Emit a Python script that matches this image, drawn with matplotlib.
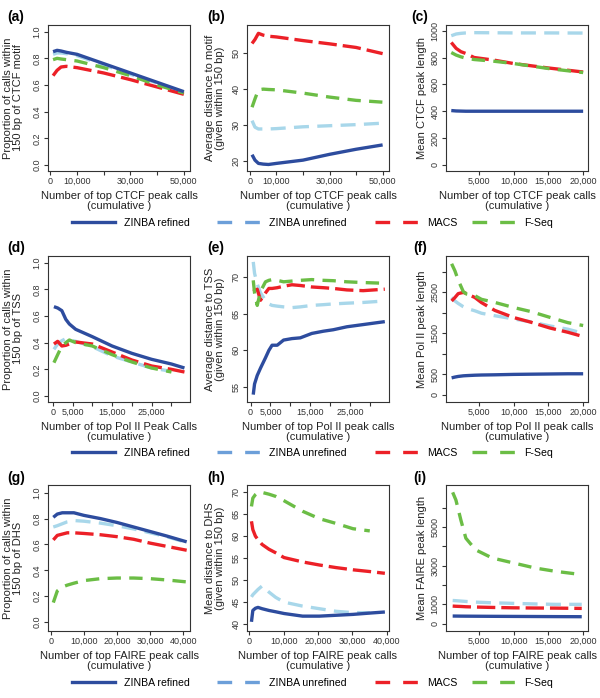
import numpy as np
import matplotlib
matplotlib.use("Agg")
import matplotlib.pyplot as plt
from matplotlib.lines import Line2D

plt.rcParams["font.family"] = ["Liberation Sans", "DejaVu Sans"]

nan = np.nan

# ---- (a) CTCF: proportion within 150 bp of motif
a_x = [1000, 2500, 4000, 6000, 10000, 20000, 30000, 40000, 50000]
a_refined = [0.85, 0.86, 0.855, 0.845, 0.83, 0.76, 0.69, 0.62, 0.55]
a_unrefined = [0.83, 0.84, 0.84, 0.835, 0.82, 0.75, 0.68, 0.615, 0.545]
a_macs = [0.67, 0.71, 0.735, 0.74, 0.73, 0.69, 0.64, 0.585, 0.53]
a_fseq = [0.79, 0.80, 0.795, 0.79, 0.78, 0.73, 0.67, 0.60, 0.54]

# ---- (b) CTCF: average distance to motif
b_x = [800, 1900, 3200, 5000, 7000, 10000, 20000, 30000, 40000, 50000]
b_refined = [21.8, 20.3, 19.4, 19.2, 19.1, 19.4, 20.3, 21.9, 23.3, 24.5]
b_unrefined = [31.2, 29.4, 28.9, 28.9, 28.9, 29.0, 29.5, 29.8, 30.1, 30.5]
b_macs = [52.5, 53.6, 55.3, 54.8, 54.5, 54.3, 53.3, 52.4, 51.4, 49.7]
b_fseq = [34.9, 37.2, 39.7, 39.9, 39.8, 39.7, 38.8, 37.7, 36.8, 36.3]

# ---- (c) CTCF: mean peak length
c_x = [1000, 1700, 2400, 3100, 4300, 7200, 10000, 15000, 20000]
c_refined = [405, 402, 401, 400, 400, 400, 400, 400, 400]
c_unrefined = [962, 975, 980, 983, 985, 984, 983, 983, 982]
c_macs = [912, 868, 843, 830, 800, 780, 755, 722, 692]
c_fseq = [837, 818, 805, 795, 785, 772, 755, 718, 688]

# ---- (d) Pol II: proportion within 150 bp of TSS
d_x = [300, 1250, 2300, 3300, 4200, 5800, 10000, 15000, 20000, 25000, 30000, 33300]
d_refined = [0.67, 0.66, 0.64, 0.575, 0.54, 0.50, 0.445, 0.375, 0.32, 0.275, 0.24, 0.21]
d_unrefined = [0.35, 0.39, 0.415, 0.43, 0.42, 0.41, 0.37, 0.30, 0.255, 0.21, 0.185, nan]
d_macs = [0.39, 0.41, 0.375, 0.38, 0.39, 0.405, 0.39, 0.33, 0.27, 0.225, 0.20, 0.18]
d_fseq = [0.25, 0.31, 0.375, 0.40, 0.42, 0.40, 0.375, 0.31, 0.255, 0.21, 0.18, nan]

# ---- (e) Pol II: average distance to TSS
e_x = [670, 1000, 1670, 2500, 3750, 4600, 5400, 6700, 8300, 10400, 12500,
       15400, 18300, 20800, 24200, 28300, 33750]
e_refined = [54.0, 55.45, 56.6, 57.6, 59.0, 60.0, 60.7, 60.7, 61.4, 61.6, 61.7,
             62.3, 62.6, 62.8, 63.2, 63.5, 63.9]
e_unrefined = [72.0, 70.45, 69.0, 67.8, 66.8, 66.3, 66.1, 66.0, 65.9, 65.8, 65.9,
               66.1, 66.2, 66.3, 66.4, 66.5, 66.7]
e_macs = [68.0, 68.1, 68.3, 66.8, 67.8, 68.4, 68.4, 68.5, 68.7, 68.9, 68.8,
          68.6, 68.5, 68.4, 68.2, 68.1, 68.3]
e_fseq = [69.5, 67.8, 66.1, 68.0, 69.3, 69.5, 69.6, 69.5, 69.3, 69.4, 69.5,
          69.6, 69.5, 69.45, 69.3, 69.2, 69.1]

# ---- (f) Pol II: mean peak length
f_x = [1050, 1530, 2000, 2730, 3200, 4400, 5360, 7270, 10000, 12500, 15200, 17800, 20000]
f_refined = [410, 430, 445, 460, 465, 475, 480, 485, 495, 500, 505, 510, 510]
f_unrefined = [2375, 2290, 2230, 2150, 2110, 2050, 1990, 1930, 1850, 1780, 1680, 1600, 1500]
f_macs = [2290, 2375, 2470, 2500, 2470, 2375, 2250, 2060, 1885, 1770, 1630, 1525, 1420]
f_fseq = [3200, 3025, 2800, 2520, 2460, 2420, 2330, 2255, 2130, 2030, 1890, 1760, 1690]

# ---- (g) FAIRE: proportion within 150 bp of DHS
g_x = [800, 2000, 3500, 5000, 7000, 10000, 15000, 20000, 25000, 30000, 35000, 41000]
g_refined = [0.81, 0.835, 0.845, 0.845, 0.845, 0.825, 0.80, 0.77, 0.735, 0.70, 0.665, 0.62]
g_unrefined = [0.735, 0.745, 0.76, 0.775, 0.785, 0.78, 0.765, 0.745, 0.72, 0.69, 0.66, 0.615]
g_macs = [0.635, 0.67, 0.68, 0.69, 0.69, 0.685, 0.675, 0.66, 0.64, 0.61, 0.585, 0.555]
g_fseq = [0.15, 0.24, 0.27, 0.285, 0.30, 0.32, 0.335, 0.34, 0.34, 0.335, 0.325, 0.31]

# ---- (h) FAIRE: mean distance to DHS
h_x = [600, 1000, 1750, 2500, 3700, 5700, 7650, 10100, 15500, 20400, 25300, 30200, 35100, 39500]
h_refined = [40.4, 43.0, 43.5, 43.7, 43.4, 43.0, 42.7, 42.3, 41.7, 41.7, 41.9, 42.1, 42.4, 42.65]
h_unrefined = [46.1, 46.6, 47.2, 47.8, 48.6, 47.2, 46.0, 44.9, 44.0, 43.4, 42.8, 42.5, 42.5, nan]
h_macs = [63.4, 61.5, 60.0, 59.2, 58.1, 57.0, 56.2, 55.1, 54.1, 53.4, 52.8, 52.3, 51.9, 51.5]
h_fseq = [66.8, 68.7, 69.5, 70.0, 70.0, 69.6, 69.1, 68.1, 65.7, 64.0, 62.9, 61.7, 61.2, nan]

# ---- (i) FAIRE: mean peak length
i_x = [1200, 1670, 2380, 3100, 4500, 6900, 10000, 13100, 16000, 19800]
i_refined = [395, 393, 390, 388, 385, 380, 375, 370, 365, 360]
i_unrefined = [1200, 1190, 1170, 1150, 1115, 1080, 1050, 1020, 1000, 1000]
i_macs = [910, 900, 890, 875, 860, 840, 820, 810, 805, 790]
i_fseq = [6800, 6400, 5370, 4425, 3825, 3400, 3140, 2880, 2710, 2540]

methods = ["ZINBA refined", "ZINBA unrefined", "MACS", "F-Seq"]

BLUE = "#2D4C9E"
LIGHT = "#A8D7EA"
LEG_LIGHT = "#6C9FD9"
RED = "#EC2027"
GREEN = "#6BBD45"
LW = 2.4
DARK = "#333333"

W, H = 600, 698
COL_LEFT = [48, 247, 446]
ROW_TOP = [25, 256, 485]
AX_W, AX_H = 142, 146
YLAB_EDGE = [23, 225, 427]

fig = plt.figure(figsize=(W / 100, H / 100), dpi=100)


def fmt(v):
    return f"{v:,}"


def panel(row, col, x, refined, unrefined, macs, fseq, xlim, ylim,
          xticks, xshow, yticks, yshow, xlabel, ylabel):
    left, top = COL_LEFT[col], ROW_TOP[row]
    ax = fig.add_axes([left / W, 1 - (top + AX_H) / H, AX_W / W, AX_H / H])
    ax.plot(x, unrefined, color=LIGHT, lw=LW, dashes=(4.5, 2.5))
    ax.plot(x, macs, color=RED, lw=LW, dashes=(5.5, 1.8))
    ax.plot(x, fseq, color=GREEN, lw=LW, dashes=(4, 2.5))
    ax.plot(x, refined, color=BLUE, lw=LW, solid_capstyle="butt")
    ax.set_xlim(xlim)
    ax.set_ylim(ylim)
    ax.set_xticks(xticks)
    ax.set_xticklabels([fmt(t) if s else "" for t, s in zip(xticks, xshow)])
    ax.set_yticks(yticks)
    ax.set_yticklabels([str(t) if s else "" for t, s in zip(yticks, yshow)])
    for t in ax.get_yticklabels():
        t.set_rotation(90)
        t.set_va("center")
    ax.tick_params(length=3, width=0.8, pad=1.5, labelsize=6.5,
                   color=DARK, labelcolor=DARK)
    for s in ax.spines.values():
        s.set_color(DARK)
        s.set_linewidth(0.8)
    ax.set_xlabel(xlabel, fontsize=8, color="#222222", linespacing=1.0)
    ax.xaxis.set_label_coords(0.5, -20 / AX_H)
    ax.set_ylabel(ylabel, fontsize=8, color="#222222", linespacing=0.95)
    ax.yaxis.set_label_coords((YLAB_EDGE[col] - left) / AX_W, 0.5)
    return ax


prop_ticks = [0.0, 0.2, 0.4, 0.6, 0.8, 1.0]
prop_lab = [True] * 6
prop_lim = (-0.045, 1.05)

panel(0, 0, a_x, a_refined, a_unrefined, a_macs, a_fseq, (-900, 52300), prop_lim,
      [0, 10000, 20000, 30000, 40000, 50000], [1, 1, 0, 1, 0, 1],
      prop_ticks, prop_lab,
      "Number of top CTCF peak calls\n(cumulative )",
      "Proportion of calls within\n150 bp of CTCF motif")
panel(0, 1, b_x, b_refined, b_unrefined, b_macs, b_fseq, (-1100, 52400), (17.3, 57.6),
      [0, 10000, 20000, 30000, 40000, 50000], [1, 1, 0, 1, 0, 1],
      [20, 30, 40, 50], [1, 1, 1, 1],
      "Number of top CTCF peak calls\n(cumulative )",
      "Average distance to motif\n(given within 150 bp)")
panel(0, 2, c_x, c_refined, c_unrefined, c_macs, c_fseq, (240, 20700), (-45, 1042),
      [5000, 10000, 15000, 20000], [1, 1, 1, 1],
      [0, 200, 400, 600, 800, 1000], [1] * 6,
      "Number of top CTCF peak calls\n(cumulative )",
      "Mean CTCF peak length")

panel(1, 0, d_x, d_refined, d_unrefined, d_macs, d_fseq, (-1200, 34700), prop_lim,
      [0, 5000, 10000, 15000, 20000, 25000, 30000], [1, 1, 0, 1, 0, 1, 0],
      prop_ticks, prop_lab,
      "Number of top Pol II Peak Calls\n(cumulative )",
      "Proportion of calls within\n150 bp of TSS")
panel(1, 1, e_x, e_refined, e_unrefined, e_macs, e_fseq, (-900, 34800), (53.0, 72.8),
      [0, 5000, 10000, 15000, 20000, 25000, 30000], [1, 1, 0, 1, 0, 1, 0],
      [55, 60, 65, 70], [1, 1, 1, 1],
      "Number of top Pol II peak calls\n(cumulative )",
      "Average distance to TSS\n(given within 150 bp)")
panel(1, 2, f_x, f_refined, f_unrefined, f_macs, f_fseq, (240, 20700), (-180, 3390),
      [5000, 10000, 15000, 20000], [1, 1, 1, 1],
      [0, 500, 1000, 1500, 2000, 2500, 3000], [1, 1, 0, 1, 0, 1, 0],
      "Number of top Pol II peak calls\n(cumulative )",
      "Mean Pol II peak length")

panel(2, 0, g_x, g_refined, g_unrefined, g_macs, g_fseq, (-800, 42000), (-0.07, 1.06),
      [0, 10000, 20000, 30000, 40000], [1] * 5,
      prop_ticks, prop_lab,
      "Number of top FAIRE peak calls\n(cumulative )",
      "Proportion of calls within\n150 bp of DHS")
panel(2, 1, h_x, h_refined, h_unrefined, h_macs, h_fseq, (-700, 40700), (38.3, 71.7),
      [0, 10000, 20000, 30000, 40000], [1] * 5,
      [40, 45, 50, 55, 60, 65, 70], [1] * 7,
      "Number of top FAIRE peak calls\n(cumulative )",
      "Mean distance to DHS\n(given within 150 bp)")
panel(2, 2, i_x, i_refined, i_unrefined, i_macs, i_fseq, (240, 20700), (-380, 7180),
      [5000, 10000, 15000, 20000], [1, 1, 1, 1],
      [0, 1000, 2000, 3000, 4000, 5000, 6000], [1, 1, 0, 1, 0, 1, 0],
      "Number of top FAIRE peak calls\n(cumulative )",
      "Mean FAIRE peak length")

# panel letters
letters = [["(a)", "(b)", "(c)"], ["(d)", "(e)", "(f)"], ["(g)", "(h)", "(i)"]]
letter_x = [16, 216, 420]
letter_y = [17, 248, 478]
for r in range(3):
    for c in range(3):
        fig.text(letter_x[c] / W, 1 - letter_y[r] / H, letters[r][c],
                 fontsize=10, fontweight="bold", ha="center", va="center")

# legends under each row
handles = [
    Line2D([], [], color=BLUE, lw=LW),
    Line2D([], [], color=LEG_LIGHT, lw=LW, dashes=(4.4, 3.9)),
    Line2D([], [], color=RED, lw=LW, dashes=(4.4, 3.9)),
    Line2D([], [], color=GREEN, lw=LW, dashes=(4.4, 3.9)),
]
leg_x = [72, 217, 375, 472]
leg_y = [223, 453, 683]
for y in leg_y:
    for h, lab, x in zip(handles, methods, leg_x):
        fig.legend([h], [lab], loc="center left",
                   bbox_to_anchor=(x / W, 1 - y / H), frameon=False,
                   borderpad=0, borderaxespad=0, fontsize=7.6,
                   handlelength=4.1, handletextpad=0.85)

fig.savefig("out.png", dpi=100)
